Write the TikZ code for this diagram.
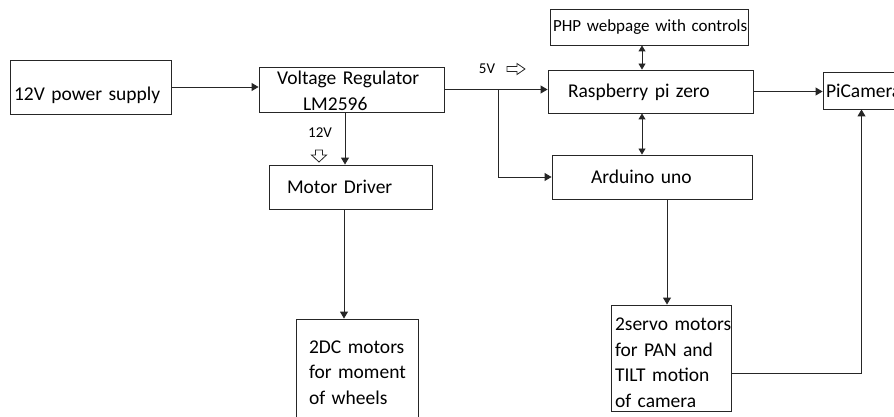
\documentclass[tikz,border=0pt]{standalone}
\usepackage{fontspec}
\setmainfont{Carlito}
\usetikzlibrary{arrows.meta}
\begin{document}
\begin{tikzpicture}[x=1pt,y=-1pt,
  box/.style={draw=black!85, line width=0.9pt, align=left, inner ysep=0pt, font=\fontsize{19.5}{25.5}\selectfont},
  arr/.style={draw=black!85, line width=0.9pt, -{Triangle[length=7pt,width=8pt]}},
  darr/.style={draw=black!85, line width=0.9pt, {Triangle[length=6pt,width=7pt]}-{Triangle[length=6pt,width=7pt]}},
  ln/.style={draw=black!85, line width=0.9pt},
  small/.style={font=\fontsize{15}{18}\selectfont, inner sep=0pt},
  hollow/.style={draw=black!85, line width=0.8pt, fill=white}]
\useasboundingbox (0,0) rectangle (894,417);

\node[box, minimum height=54pt, text width=153pt, inner xsep=4pt] (pw) at (90.5,87) {\rule{0pt}{30pt}12V power supply};
\node[box, minimum height=45pt, text width=149pt, inner xsep=18pt] (reg) at (351.5,89.5) {\rule{0pt}{16pt}Voltage Regulator\\\hspace*{26pt}LM2596};
\node[box, minimum height=44pt, text width=127pt, inner xsep=18pt] (mot) at (350.5,187) {Motor Driver};
\node[box, minimum height=107pt, text width=96pt, inner xsep=13pt] (dc) at (357,372.5) {\mbox{2DC motors}\\\mbox{for moment}\\of wheels};
\node[box, font=\fontsize{17}{20}\selectfont, minimum height=36pt, text width=192pt, inner xsep=3pt] (php) at (649,27) {\mbox{PHP webpage with controls}};
\node[box, minimum height=43pt, text width=165pt, inner xsep=20pt] (rasp) at (650.5,91.5) {\rule{0pt}{15pt}Raspberry pi zero};
\node[box, minimum height=44pt, text width=122pt, inner xsep=39pt] (ard) at (652,177) {Arduino uno};
\node[box, minimum height=37pt, text width=71pt, inner xsep=3pt] (cam) at (861.5,90.5) {\mbox{PiCamera}};
\node[box, minimum height=106pt, text width=112pt, inner xsep=4pt] (sv) at (671,358) {\rule{0pt}{22pt}\mbox{2servo motors}\\for PAN and\\TILT motion\\of camera};

\node[small] (l12) at (320,133) {12V};
\node[small] (l5) at (487,69) {5V};
\draw[hollow, shift={(319,150)}] (-3.5,0) -- (3.5,0) -- (3.5,5) -- (7.5,5) -- (0,12) -- (-7.5,5) -- (-3.5,5) -- cycle;
\draw[hollow, shift={(507,69)}] (0,-2.5) -- (10,-2.5) -- (10,-5.5) -- (18,0) -- (10,5.5) -- (10,2.5) -- (0,2.5) -- cycle;

\draw[arr] (pw.east) -- (pw.east -| reg.west);
\draw[arr] ([xshift=-6.5pt]reg.south) -- ([xshift=-6.5pt]reg.south |- mot.north);
\draw[arr] (reg.east) -- (reg.east -| rasp.west);
\path (reg.east) ++(54,0) coordinate (br);
\draw[arr] (br) |- (ard.west);
\draw[darr] ([xshift=-7pt]php.south) -- ([xshift=-7pt]php.south |- rasp.north);
\draw[darr] ([xshift=-8.5pt]rasp.south) -- ([xshift=-8.5pt]rasp.south |- ard.north);
\draw[arr] ([xshift=-4pt]sv.north |- ard.south) -- ([xshift=-4pt]sv.north);
\draw[arr] ([xshift=-6.5pt]mot.south) -- ([xshift=-6.5pt]mot.south |- dc.north);
\draw[arr] (rasp.east) -- (rasp.east -| cam.west);
\draw[arr] ([yshift=-15pt]sv.east) -| (cam.south);
\end{tikzpicture}
\end{document}
